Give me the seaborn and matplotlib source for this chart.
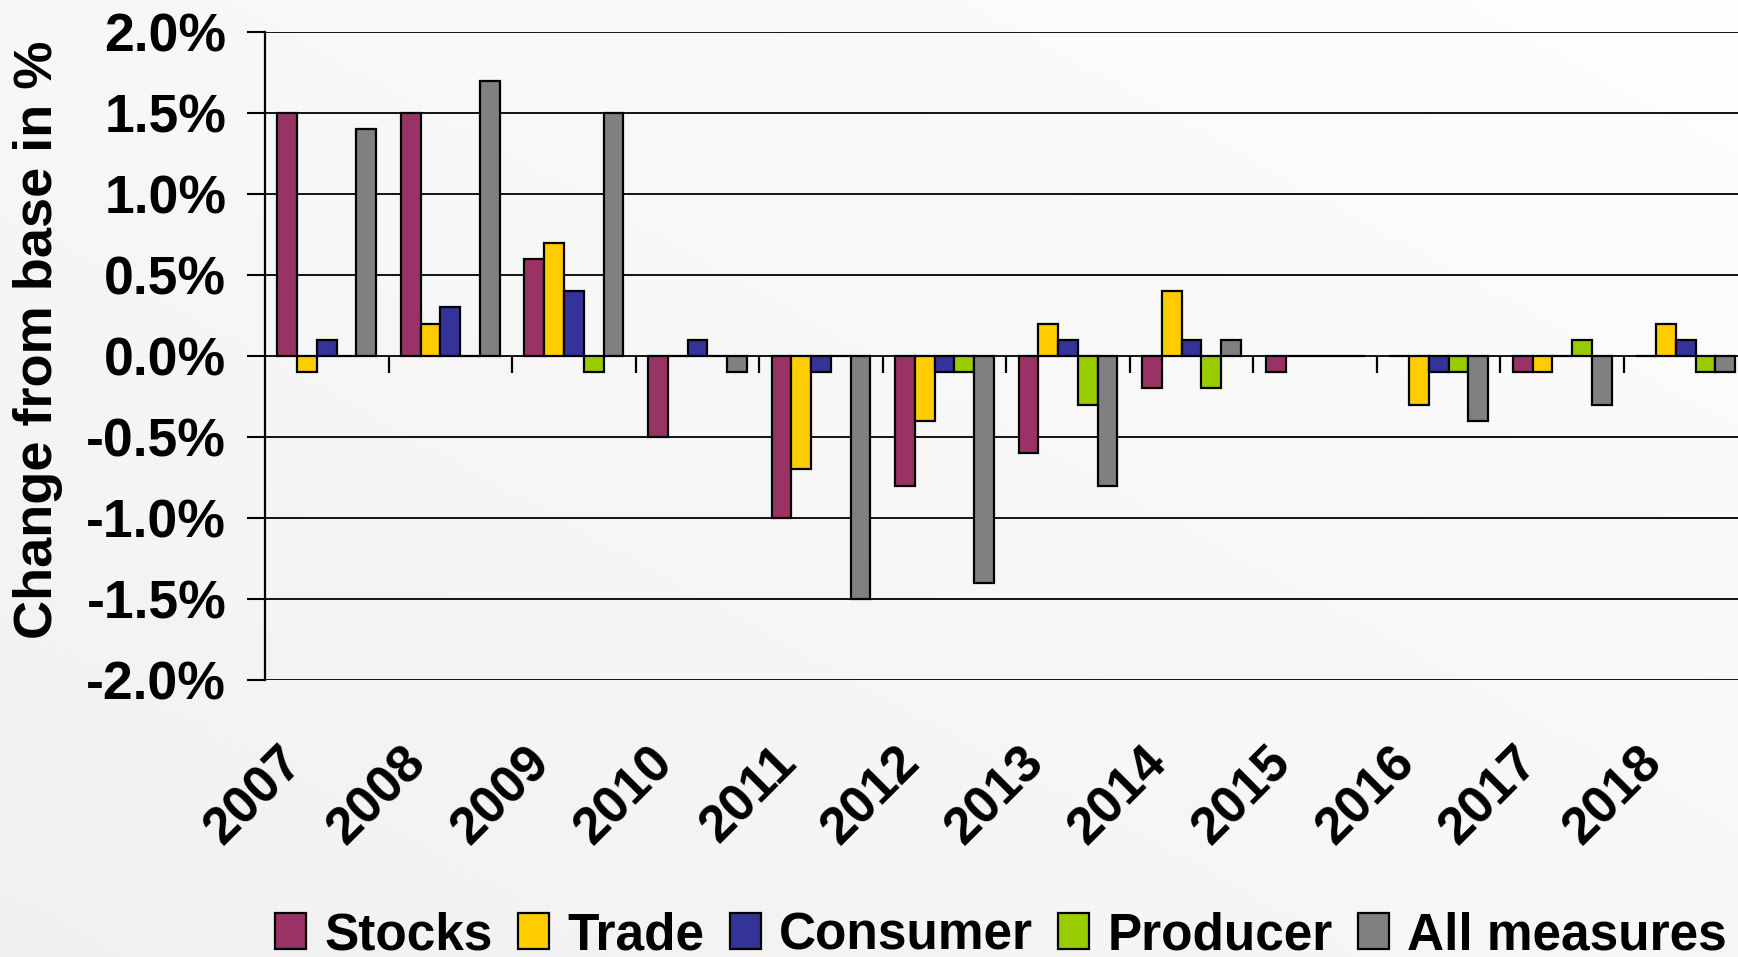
import numpy as np
import pandas as pd
import matplotlib
matplotlib.use("Agg")
import matplotlib.pyplot as plt
import matplotlib.transforms as mtransforms
from matplotlib.ticker import PercentFormatter
import seaborn as sns


# Data (percent change from base)
years = ["2007", "2008", "2009", "2010", "2011", "2012",
         "2013", "2014", "2015", "2016", "2017", "2018"]
stocks = [1.5, 1.5, 0.6, -0.5, -1.0, -0.8, -0.6, -0.2, -0.1, 0.0, -0.1, 0.0]
trade = [-0.1, 0.2, 0.7, 0.0, -0.7, -0.4, 0.2, 0.4, 0.0, -0.3, -0.1, 0.2]
consumer = [0.1, 0.3, 0.4, 0.1, -0.1, -0.1, 0.1, 0.1, 0.0, -0.1, 0.0, 0.1]
producer = [0.0, 0.0, -0.1, 0.0, 0.0, -0.1, -0.3, -0.2, 0.0, -0.1, 0.1, -0.1]
all_measures = [1.4, 1.7, 1.5, -0.1, -1.5, -1.4, -0.8, 0.1, 0.0, -0.4, -0.3, -0.1]

series = ["Stocks", "Trade", "Consumer", "Producer", "All measures"]
colors = ["#993366", "#FFCC00", "#333399", "#99CC00", "#808080"]

df = pd.DataFrame({
    "Year": years,
    "Stocks": stocks,
    "Trade": trade,
    "Consumer": consumer,
    "Producer": producer,
    "All measures": all_measures,
})
df = df.melt(id_vars="Year", value_vars=series, var_name="Measure", value_name="Change")

sns.set_style("white")
plt.rcParams["font.family"] = ["Liberation Sans", "DejaVu Sans"]
plt.rcParams["font.weight"] = "bold"
plt.rcParams["axes.unicode_minus"] = False
plt.rcParams["text.color"] = "black"
plt.rcParams["axes.labelcolor"] = "black"
plt.rcParams["xtick.color"] = "black"
plt.rcParams["ytick.color"] = "black"

fig = plt.figure(figsize=(17.38, 9.57), dpi=100)

# light grey gradient background
bg = fig.add_axes([0, 0, 1, 1], zorder=-10)
gx, gy = np.meshgrid(np.linspace(0, 1, 200), np.linspace(0, 1, 120))
grad = (gx + (1 - gy)) / 2
bg.imshow(grad, cmap="Greys_r", vmin=-8, vmax=1.1, aspect="auto", extent=[0, 1, 0, 1])
bg.axis("off")

ax = fig.add_axes([0.1525, 0.2894, 0.8530, 0.6772])
ax.set_facecolor("none")

sns.barplot(
    data=df, x="Year", y="Change", hue="Measure",
    hue_order=series, palette=dict(zip(series, colors)), saturation=1,
    width=0.8, edgecolor="black", linewidth=1.6, ax=ax, zorder=3,
)

ax.set_ylim(-2.0, 2.0)
ax.set_yticks(np.arange(-2.0, 2.01, 0.5))
ax.yaxis.set_major_formatter(PercentFormatter(xmax=100, decimals=1))
ax.set_xlim(-0.5, len(years) - 0.5)
ax.grid(axis="y", color="black", linewidth=1.3)
ax.set_axisbelow(True)

for side in ["top", "right", "bottom"]:
    ax.spines[side].set_visible(False)
ax.spines["left"].set_color("black")
ax.spines["left"].set_linewidth(1.6)

ax.tick_params(axis="y", direction="out", length=13, width=1.5, pad=15,
               labelsize=38.5, left=True)
ax.tick_params(axis="x", length=0, pad=54, labelsize=37.5)
for lab in ax.get_yticklabels():
    lab.set_fontweight("bold")
for lab in ax.get_xticklabels():
    lab.set_rotation(45)
    lab.set_ha("right")
    lab.set_va("center")
    lab.set_rotation_mode("anchor")
    lab.set_fontweight("bold")
    lab.set_transform(lab.get_transform() +
                      mtransforms.ScaledTranslation(-0.32, 0, fig.dpi_scale_trans))

# category-boundary tick marks hanging from the zero line
sec = ax.secondary_xaxis(0.5)
sec.set_xticks(np.arange(0.5, len(years) - 1, 1.0))
sec.xaxis.set_ticks_position("bottom")
sec.tick_params(axis="x", direction="out", length=12, width=1.6, labelbottom=False,
                labeltop=False, top=False, bottom=True)
for s in sec.spines.values():
    s.set_visible(False)

ax.set_xlabel("")
ax.set_ylabel("Change from base in %", fontsize=39, fontweight="bold")
ax.yaxis.set_label_coords(-0.136, 0.525)

handles, labels = ax.get_legend_handles_labels()
ax.get_legend().remove()
fig.legend(handles, labels, loc="center", bbox_to_anchor=(0.576, 0.022), ncol=5,
           frameon=False, prop={"size": 37, "weight": "bold"},
           handlelength=0.6, handleheight=0.7, handletextpad=0.35,
           columnspacing=0.5, borderaxespad=0)

fig.savefig("out.png", dpi=100)
